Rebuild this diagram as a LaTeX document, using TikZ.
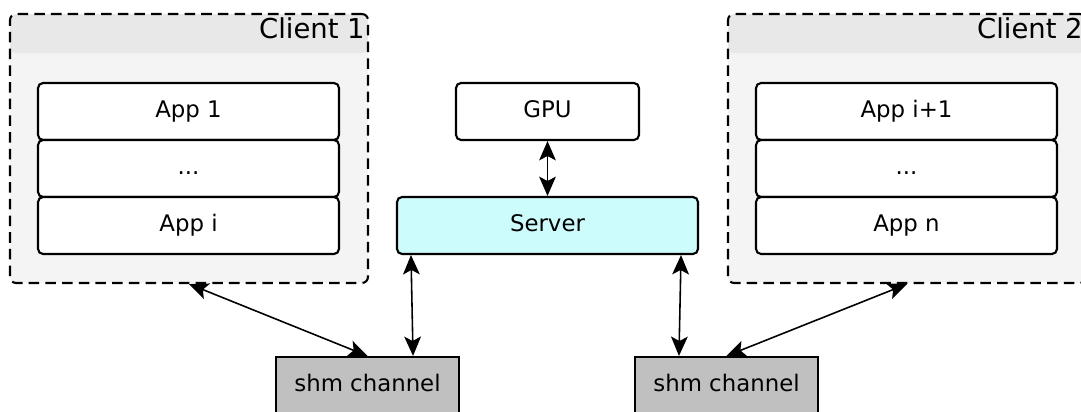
\documentclass[tikz,border=0pt]{standalone}
\usepackage{fontspec}
\setmainfont{DejaVu Sans}
\usetikzlibrary{arrows.meta}
\definecolor{clientbody}{HTML}{F4F4F4}
\definecolor{clienthead}{HTML}{E8E8E8}
\definecolor{serverfill}{HTML}{CCFCFC}
\definecolor{shmfill}{HTML}{C0C0C0}
\tikzset{
    appbox/.style={draw, line width=1.2pt, rounded corners=0.1cm, fill=white, minimum width=6.02cm, minimum height=1.14cm, text height=0.73em, text depth=0pt, font=\fontsize{13}{15}\selectfont},
    clientbox/.style={draw, dash pattern=on 6pt off 3.5pt, line width=1.2pt, rounded corners=0.12cm, fill=clientbody, minimum width=7.16cm, minimum height=5.38cm,
        path picture={\fill[clienthead] (path picture bounding box.north west) rectangle ([yshift=-0.78cm]path picture bounding box.north east);}},
    clientlabel/.style={anchor=east, inner sep=0.08cm, text height=0.73em, text depth=0pt, font=\fontsize{15.6}{18}\selectfont},
    shmbox/.style={draw, line width=1.2pt, fill=shmfill, minimum width=3.66cm, minimum height=1.14cm, text height=0.73em, text depth=0pt, font=\fontsize{13}{15}\selectfont},
    tip/.style={arrows={Stealth[length=11pt,width=9.5pt,inset=2.5pt]-Stealth[length=11pt,width=9.5pt,inset=2.5pt]}},
    link/.style={tip, line width=0.9pt},
}
\begin{document}
\begin{tikzpicture}[x=0.02cm, y=-0.02cm]
        \useasboundingbox (0,0) rectangle (1081,412);
        \node[clientbox] (client1) at (189, 148.5) {};
        \node[clientlabel] (client1-label) at ([yshift=-0.39cm]client1.north east) {Client 1};
        \node[clientbox] (client2) at (907, 148.5) {};
        \node[clientlabel] (client2-label) at ([yshift=-0.39cm]client2.north east) {Client 2};

        \node[appbox] (app1) at (188.5, 111.5) {App 1};
        \node[appbox] (dots1) at (188.5, 168.5) {...};
        \node[appbox] (appi) at (188.5, 225.5) {App i};
        \node[appbox] (appi1) at (906.5, 111.5) {App i+1};
        \node[appbox] (dots2) at (906.5, 168.5) {...};
        \node[appbox] (appn) at (906.5, 225.5) {App n};

        \node[appbox, minimum width=3.66cm] (gpu) at (547.5, 111.5) {GPU};
        \node[appbox, fill=serverfill] (server) at (547.5, 225.5) {Server};

        \node[shmbox] (shm1) at (367.5, 385.5) {shm channel};
        \node[shmbox] (shm2) at (726.5, 385.5) {shm channel};

        \draw[link] (gpu) -- (server);
        \draw[link] ([xshift=0.3cm]server.south west) -- ([xshift=-0.94cm]shm1.north east);
        \draw[link] ([xshift=-0.36cm]server.south east) -- ([xshift=0.9cm]shm2.north west);
        \draw[link] (client1.south) -- (shm1.north);
        \draw[link] (client2.south) -- (shm2.north);
    \end{tikzpicture}
\end{document}
